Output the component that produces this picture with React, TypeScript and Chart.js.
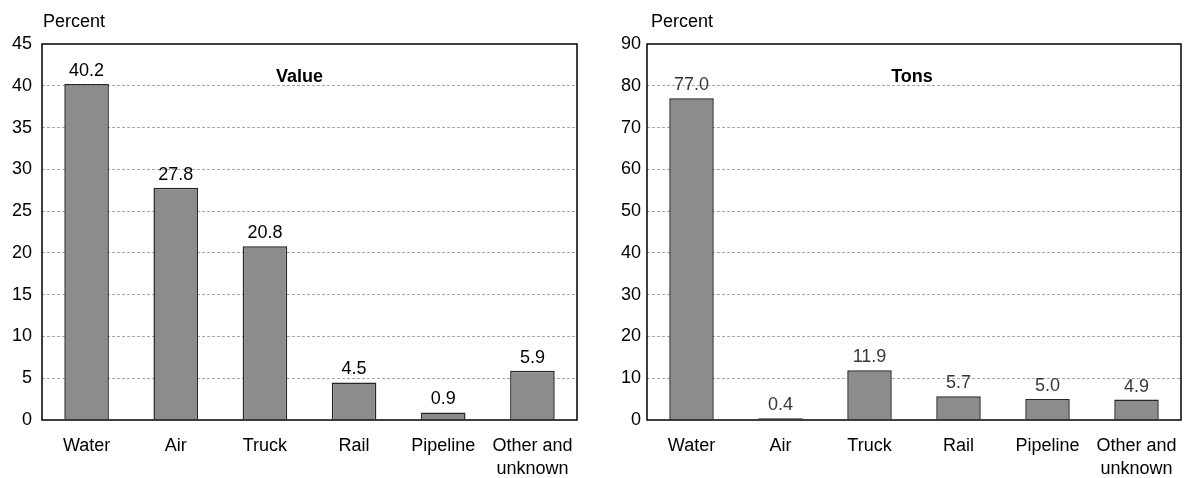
import React, { useEffect, useRef } from "react";
import { Chart, registerables } from "chart.js";

Chart.register(...registerables);

const categories: (string | string[])[] = ["Water", "Air", "Truck", "Rail", "Pipeline", ["Other and", "unknown"]];
const valueShares = [40.2, 27.8, 20.8, 4.5, 0.9, 5.9];
const tonShares = [77.0, 0.4, 11.9, 5.7, 5.0, 4.9];
const valueLabels = ["40.2", "27.8", "20.8", "4.5", "0.9", "5.9"];
const tonLabels = ["77.0", "0.4", "11.9", "5.7", "5.0", "4.9"];

const FONT = "'Liberation Sans', Arial, sans-serif";
const FS = 18;

type PanelProps = {
  data: number[];
  labels: string[];
  title: string;
  max: number;
  step: number;
  leftPad: number;
  rightPad: number;
  titleOffset: number;
  labelColor: string;
  tickPad: number;
  percentOffset: number;
};

function Panel(p: PanelProps) {
  const ref = useRef<HTMLCanvasElement | null>(null);
  useEffect(() => {
    if (!ref.current) return;
    const overlay = {
      id: "overlay",
      afterDatasetsDraw(chart: any) {
        const { ctx, chartArea } = chart;
        ctx.save();
        ctx.strokeStyle = "#000";
        ctx.lineWidth = 1.5;
        ctx.strokeRect(chartArea.left, chartArea.top, chartArea.right - chartArea.left, chartArea.bottom - chartArea.top);
        const meta = chart.getDatasetMeta(0);
        ctx.font = `${FS}px ${FONT}`;
        ctx.fillStyle = p.labelColor;
        ctx.textAlign = "center";
        ctx.textBaseline = "alphabetic";
        meta.data.forEach((el: any, i: number) => {
          ctx.fillText(p.labels[i], el.x, el.y - 8);
        });
        ctx.font = `bold ${FS}px ${FONT}`;
        ctx.fillStyle = "#000";
        ctx.fillText(p.title, (chartArea.left + chartArea.right) / 2 + p.titleOffset, chartArea.top + 38);
        ctx.font = `${FS}px ${FONT}`;
        ctx.textAlign = "left";
        ctx.fillText("Percent", chartArea.left + p.percentOffset, 27);
        ctx.restore();
      },
    };
    const chart = new Chart(ref.current, {
      type: "bar",
      data: {
        labels: categories,
        datasets: [
          {
            data: p.data,
            backgroundColor: "#8c8c8c",
            borderColor: "#262626",
            borderWidth: 1.5,
            barPercentage: 0.5,
            categoryPercentage: 1,
          },
        ],
      },
      options: {
        animation: false,
        responsive: false,
        maintainAspectRatio: false,
        layout: { padding: { top: 44, left: 0, right: p.rightPad, bottom: 0 } },
        plugins: { legend: { display: false }, tooltip: { enabled: false }, title: { display: false } },
        scales: {
          x: {
            grid: { display: false, drawTicks: false },
            border: { display: false },
            ticks: { color: "#000", font: { family: FONT, size: FS, lineHeight: 1.3 }, padding: 14, maxRotation: 0, autoSkip: false },
            afterFit: (s: any) => {
              s.height = 58;
              s.paddingLeft = 0;
              s.paddingRight = 0;
            },
          },
          y: {
            min: 0,
            max: p.max,
            ticks: { stepSize: p.step, color: "#000", font: { family: FONT, size: FS }, padding: p.tickPad },
            grid: {
              drawTicks: false,
              color: (c: any) => (c.tick && (c.tick.value === 0 || c.tick.value === p.max) ? "rgba(0,0,0,0)" : "#a8a8a8"),
              lineWidth: 1,
            },
            border: { display: false, dash: [3, 2] },
            afterFit: (s: any) => {
              s.width = p.leftPad;
              s.paddingTop = 0;
              s.paddingBottom = 0;
            },
          },
        },
      } as any,
      plugins: [overlay],
    });
    return () => chart.destroy();
  }, []);
  return <canvas ref={ref} width={594} height={478} style={{ display: "block", width: 594, height: 478 }} />;
}

export default function App() {
  return (
    <div style={{ position: "absolute", left: 0, top: 0, width: 1188, height: 478, display: "flex", background: "#fff" }}>
      <Panel data={valueShares} labels={valueLabels} title="Value" max={45} step={5} leftPad={42} rightPad={17} titleOffset={-10} labelColor="#000" tickPad={10} percentOffset={1} />
      <Panel data={tonShares} labels={tonLabels} title="Tons" max={90} step={10} leftPad={53} rightPad={7} titleOffset={-2} labelColor="#3e3440" tickPad={6} percentOffset={4} />
    </div>
  );
}
